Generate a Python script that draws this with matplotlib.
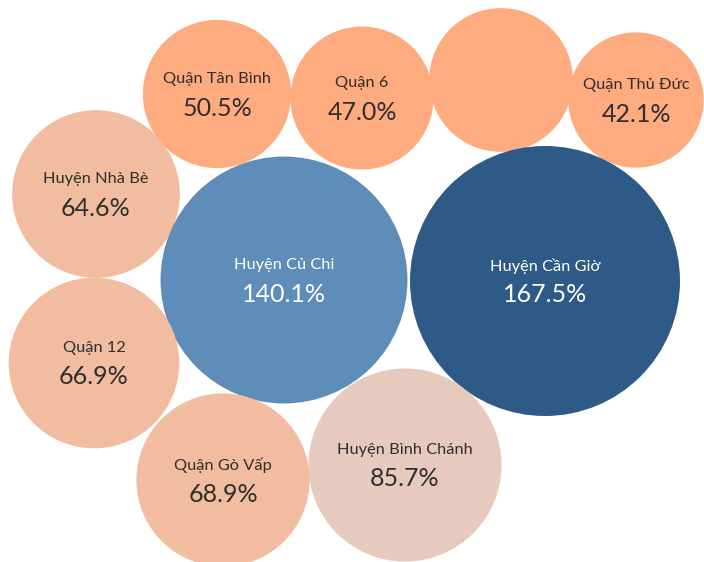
import matplotlib

matplotlib.use("Agg")
import matplotlib.pyplot as plt
from matplotlib.patches import Circle
import numpy as np

# district names and percentage values (bubble area ~ value)
names = ["Quận Tân Bình", "Quận 6", "", "Quận Thủ Đức", "Huyện Nhà Bè",
         "Huyện Củ Chi", "Huyện Cần Giờ", "Quận 12", "Quận Gò Vấp",
         "Huyện Bình Chánh"]
values = [50.5, 47.0, 47.5, 42.1, 64.6, 140.1, 167.5, 66.9, 68.9, 85.7]

# packed layout (pixel centres) and fill colours
cx = [217, 362, 501, 636, 96, 284, 545, 94, 223, 405]
cy = [94, 98, 80, 100, 194, 280, 281, 363, 480, 465]
ORANGE, SALMON, SAND = "#fdab7f", "#f1bca0", "#e5cabd"
BLUE, NAVY = "#5d8db8", "#2e5a87"
fills = [ORANGE, ORANGE, ORANGE, ORANGE, SALMON, BLUE, NAVY, SALMON, SALMON, SAND]

W, H = 704, 562
K = 135 / np.sqrt(167.5)  # px radius per sqrt(value)

fig = plt.figure(figsize=(W / 100, H / 100), dpi=100)
ax = fig.add_axes([0, 0, 1, 1])
ax.set_xlim(0, W)
ax.set_ylim(H, 0)
ax.set_aspect("equal")
ax.axis("off")

FONT = "Lato"
for n, v, x, y, c in zip(names, values, cx, cy, fills):
    ax.add_patch(Circle((x, y), K * np.sqrt(v), color=c, lw=0))
    if not n:
        continue
    tc = "white" if c in (BLUE, NAVY) else "#2e2e2e"
    ax.text(x, y - 15, n, ha="center", va="center", color=tc, fontsize=11.8,
            family=FONT)
    ax.text(x, y + 14, f"{v:.1f}%", ha="center", va="center", color=tc,
            fontsize=18, family=FONT)

fig.savefig("out.png", dpi=100)
